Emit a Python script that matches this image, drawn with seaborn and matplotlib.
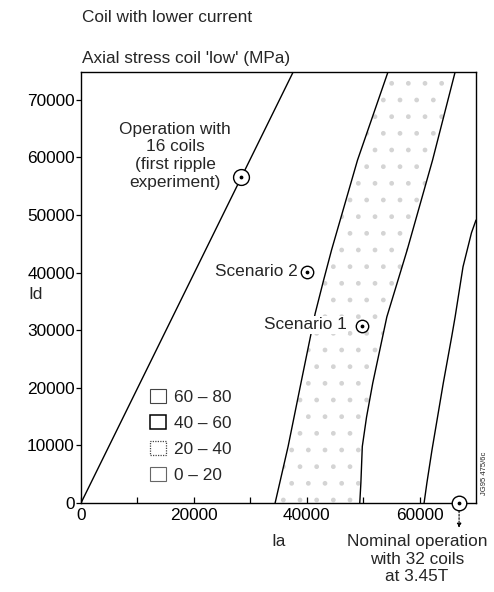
import numpy as np
import pandas as pd
import matplotlib
matplotlib.use("Agg")
import matplotlib.pyplot as plt
import seaborn as sns
from matplotlib.patches import Patch

# ---------------- data ----------------
ia_line1 = [0, 37600]
id_line1 = [0, 74800]

ia_line2 = [34400, 36700, 39100, 41500, 43000, 44400, 49000, 54400]
id_line2 = [0, 9800, 21400, 32900, 38700, 43900, 59500, 74800]

ia_line3 = [49400, 49600, 49850, 50600, 51700, 54200, 57800, 62300, 66300]
id_line3 = [0, 3500, 9800, 14900, 20800, 32300, 43900, 59500, 74800]

ia_line4 = [60800, 61300, 62200, 64200, 65700, 66300, 67700, 69200, 70000]
id_line4 = [0, 3500, 9200, 20800, 28900, 32300, 41000, 46900, 49100]

op_names = ["16 coils", "Scenario 2", "Scenario 1", "Nominal"]
op_ia = [28400, 40100, 49800, 67000]
op_id = [56600, 40100, 30700, 0]

legend_labels = ["60 \u2013 80", "40 \u2013 60", "20 \u2013 40", "0 \u2013 20"]
x_major = [0, 20000, 40000, 60000]
x_minor = [10000, 30000, 50000]
y_ticks = [0, 10000, 20000, 30000, 40000, 50000, 60000, 70000]

# ---------------- style ----------------
FS = 12.4
sns.set_style("ticks")
plt.rcParams["font.family"] = ["Liberation Sans", "DejaVu Sans"]
plt.rcParams["font.size"] = FS

fig = plt.figure(figsize=(4.94, 5.92), dpi=100)
ax = fig.add_axes([81 / 494, 1 - 503 / 592, 395 / 494, 431 / 592])

# dotted band (20 - 40 MPa) between line 2 and line 3
ax.fill(ia_line2 + ia_line3[::-1], id_line2 + id_line3[::-1],
        facecolor="none", edgecolor="#d4d4d4", hatch=".", linewidth=0, zorder=1)

for xs, ys in [(ia_line1, id_line1), (ia_line2, id_line2),
               (ia_line3, id_line3), (ia_line4, id_line4)]:
    sns.lineplot(x=xs, y=ys, ax=ax, sort=False, estimator=None,
                 color="black", linewidth=1.0, zorder=3)

# operating points (circle with centre dot)
pts = pd.DataFrame({"name": op_names, "Ia": op_ia, "Id": op_id})
sizes = [130, 80, 80, 110]
for (_, r), s in zip(pts.iterrows(), sizes):
    ax.scatter([r["Ia"]], [r["Id"]], s=s, facecolor="white", edgecolor="black",
               linewidth=1.0, zorder=5, clip_on=False)
    ax.scatter([r["Ia"]], [r["Id"]], s=3, color="black", zorder=6, clip_on=False)

ax.set_xlim(0, 70000)
ax.set_ylim(0, 74800)
ax.set_xticks(x_major)
ax.set_xticks(x_minor, minor=True)
ax.set_yticks(y_ticks)
ax.tick_params(axis="x", which="both", direction="in", length=4, width=0.9,
               pad=3.5, labelsize=FS, colors="black")
ax.tick_params(axis="y", direction="out", length=3.5, width=0.9, pad=1,
               labelsize=FS, colors="black")
for sp in ax.spines.values():
    sp.set_visible(True)
    sp.set_color("black")
    sp.set_linewidth(1.0)

ax.set_xlabel("Ia", fontsize=FS)
ax.xaxis.set_label_coords(0.5, -0.072)
ax.set_ylabel("Id", fontsize=FS, rotation=0, va="center", ha="center")
ax.yaxis.set_label_coords(-0.116, 0.483)

# annotations
ax.text(16700, 60300, "Operation with\n16 coils\n(first ripple\nexperiment)",
        ha="center", va="center", fontsize=FS, linespacing=1.22, zorder=4)
ax.text(38400, 40100, "Scenario 2", ha="right", va="center", fontsize=FS, zorder=4)
ax.text(47100, 30900, "Scenario 1", ha="right", va="center", fontsize=FS, zorder=4,
        bbox=dict(facecolor="white", edgecolor="none", pad=1.0))

ax.annotate("", xy=(67000, -4300), xytext=(67000, -1400),
            arrowprops=dict(arrowstyle="-|>", linestyle=(0, (1.5, 1.5)), lw=0.8,
                            color="black", mutation_scale=6, shrinkA=0, shrinkB=0),
            annotation_clip=False)

fig.text(417 / 494, 1 - 534 / 592, "Nominal operation\nwith 32 coils\nat 3.45T",
         ha="center", va="top", fontsize=FS, linespacing=1.22)

fig.text(82 / 494, 1 - 17 / 592, "Coil with lower current", ha="left",
         va="center", fontsize=FS)
fig.text(82 / 494, 1 - 59 / 592, "Axial stress coil 'low' (MPa)", ha="left",
         va="center", fontsize=FS)
fig.text(484 / 494, 1 - 473 / 592, "JG95 475/6c", rotation=90, ha="center",
         va="center", fontsize=5.5)

# legend
styles = [dict(edgecolor="#444444", linewidth=0.8, linestyle="-"),
          dict(edgecolor="black", linewidth=1.1, linestyle="-"),
          dict(edgecolor="#444444", linewidth=0.9, linestyle=(0, (1, 1))),
          dict(edgecolor="#666666", linewidth=0.8, linestyle="-")]
handles = [Patch(facecolor="white", label=l, **st) for l, st in zip(legend_labels, styles)]
ax.legend(handles=handles, loc="upper left", bbox_to_anchor=(0.175, 0.265),
          frameon=False, fontsize=FS, handlelength=0.9, handleheight=0.9,
          handletextpad=0.5, labelspacing=0.58, borderpad=0, borderaxespad=0)

fig.savefig("out.png", dpi=100)
